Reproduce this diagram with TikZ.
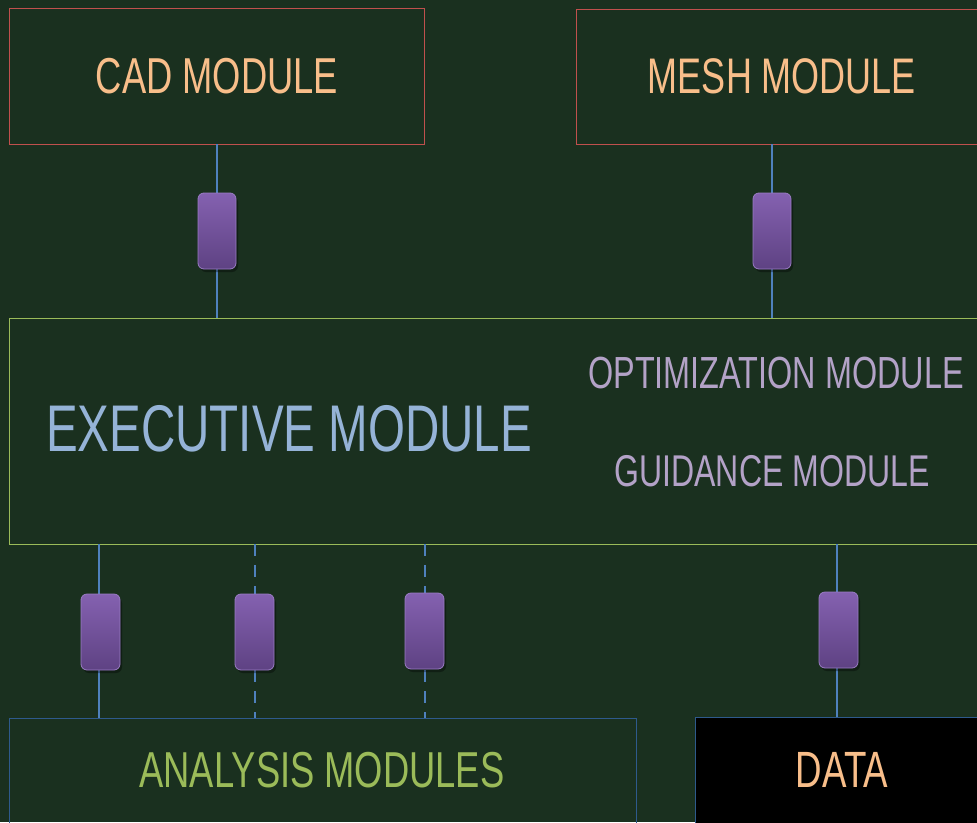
\documentclass[tikz,border=0pt]{standalone}
\usepackage{fontspec}
\setmainfont{Liberation Sans}[FakeStretch=0.72]
\usetikzlibrary{shadows}

\definecolor{bgcol}{HTML}{1A301F}
\definecolor{redline}{HTML}{C0504D}
\definecolor{greenline}{HTML}{9BBB59}
\definecolor{blueline}{HTML}{2E5A8C}
\definecolor{wire}{HTML}{4F81BD}
\definecolor{peach}{HTML}{F8BE8A}
\definecolor{skyblue}{HTML}{95B3D7}
\definecolor{lilac}{HTML}{B3A2C7}
\definecolor{leaf}{HTML}{9BBB59}
\definecolor{pilltop}{HTML}{8461B0}
\definecolor{pillbot}{HTML}{5E4283}
\definecolor{pilledge}{HTML}{9A7CC4}

\tikzset{
  module/.style={draw, line width=1pt, inner sep=0pt},
  wireline/.style={draw=wire, line width=1.5pt},
  dashwire/.style={wireline, dash pattern=on 12pt off 9pt},
  pill/.style={rounded corners=6pt, draw=pilledge, line width=0.8pt,
    top color=pilltop, bottom color=pillbot,
    drop shadow={shadow xshift=2pt, shadow yshift=-3pt, opacity=0.35, fill=black}},
}

\begin{document}
\begin{tikzpicture}[x=1pt, y=-1pt]
  % background
  \fill[bgcol] (0,0) rectangle (977,822);
  \useasboundingbox (0,0) rectangle (977,822);

  % module boxes
  \draw[module, draw=redline] (9,8) rectangle (424,144);
  \draw[module, draw=redline] (576.5,9.5) rectangle (990,144);
  \draw[module, draw=greenline] (9,318) rectangle (990,544);
  \draw[module, draw=blueline] (9,718) rectangle (636,840);
  \draw[module, draw=blueline, fill=black] (695,717) rectangle (990,840);

  % anchor points of the boxes
  \coordinate (cadB)  at (217,144);
  \coordinate (meshB) at (772,144);
  \coordinate (exT1)  at (217,318);
  \coordinate (exT2)  at (772,318);
  \coordinate (exB1)  at (99,544);
  \coordinate (exB2)  at (255,544);
  \coordinate (exB3)  at (425,544);
  \coordinate (exB4)  at (837,544);
  \coordinate (anT1)  at (99,718);
  \coordinate (anT2)  at (255,718);
  \coordinate (anT3)  at (425,718);
  \coordinate (daT)   at (837,717);

  % connectors
  \draw[wireline] (cadB) -- (exT1);
  \draw[wireline] (meshB) -- (exT2);
  \draw[wireline] (exB1) -- (anT1);
  \draw[dashwire] (exB2) -- (anT2);
  \draw[dashwire] (exB3) -- (anT3);
  \draw[wireline] (exB4) -- (daT);

  % interface blocks on the connectors
  \path[pill] (198,193) rectangle (236,269);
  \path[pill] (753,193) rectangle (791,269);
  \path[pill] (81,594) rectangle (120,670);
  \path[pill] (235,594) rectangle (274,670);
  \path[pill] (405,593) rectangle (444,669);
  \path[pill] (819,592) rectangle (858,668);

  % labels
  \node[text=peach, font=\fontsize{50.5}{50}\selectfont] (cad) at (217,76) {CAD MODULE};
  \node[text=peach, font=\fontsize{50}{50}\selectfont] (mesh) at (782,76) {MESH MODULE};
  \node[text=skyblue, font=\fontsize{66}{66}\selectfont] (exec) at (289,429) {EXECUTIVE MODULE};
  \node[text=lilac, font=\fontsize{45}{45}\selectfont] (opt) at (776,373) {OPTIMIZATION MODULE};
  \node[text=lilac, font=\fontsize{44.5}{45}\selectfont] (guid) at (772,471) {GUIDANCE MODULE};
  \node[text=leaf, font=\fontsize{50.5}{52}\selectfont] (ana) at (322,770) {ANALYSIS MODULES};
  \node[text=peach, font=\fontsize{51}{52}\selectfont] (data) at (842,770) {DATA};
\end{tikzpicture}
\end{document}
